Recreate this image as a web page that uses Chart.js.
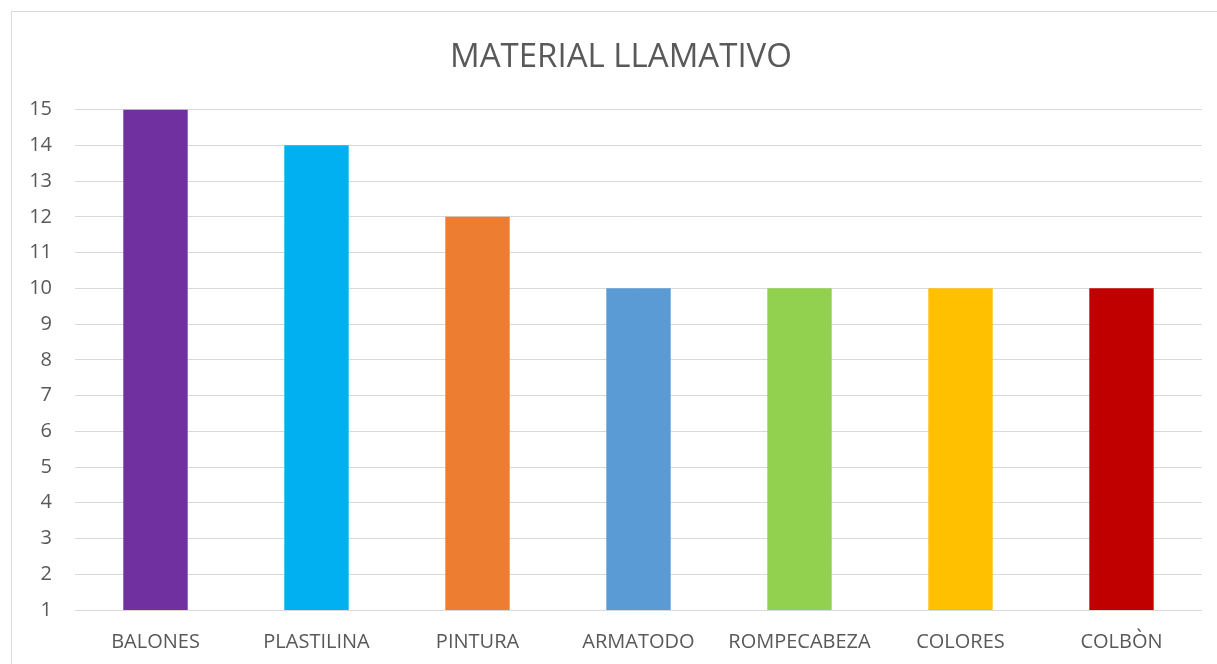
<!DOCTYPE html>
<html>
<head>
<meta charset="utf-8">
<script src="https://cdn.jsdelivr.net/npm/chart.js@4"></script>
<style>
  html, body { margin: 0; padding: 0; background: #fff; }
  #wrap { position: absolute; left: 0; top: 0; width: 1217px; height: 664px; }
  #frame { position: absolute; left: 11px; top: 11px; width: 1220px; height: 700px;
           border-left: 1px solid #d9d9d9; border-top: 1px solid #d9d9d9; pointer-events: none; }
</style>
</head>
<body>
<div id="wrap"><canvas id="chart" width="1217" height="664"></canvas></div>
<div id="frame"></div>
<script>
const categories = ['BALONES', 'PLASTILINA', 'PINTURA', 'ARMATODO', 'ROMPECABEZA', 'COLORES', 'COLBÒN'];
const values = [15, 14, 12, 10, 10, 10, 10];
const barColors = ['#7030A0', '#00B0F0', '#ED7D31', '#5B9BD5', '#92D050', '#FFC000', '#C00000'];

const fontFamily = '"Open Sans", "Liberation Sans", sans-serif';
const textColor = '#595959';

// nudge the title box so the text is centred on the framed area, like the original
const titleShift = {
  id: 'titleShift',
  afterLayout(chart) {
    if (chart.titleBlock) chart.titleBlock.left += 40;
  },
};

const ctx = document.getElementById('chart').getContext('2d');
new Chart(ctx, {
  type: 'bar',
  data: {
    labels: categories,
    datasets: [{
      label: 'MATERIAL LLAMATIVO',
      data: values,
      backgroundColor: barColors,
      barPercentage: 0.4,
      categoryPercentage: 1.0,
    }],
  },
  options: {
    responsive: false,
    animation: false,
    layout: { padding: { left: 0, right: 15, top: 0, bottom: 0 } },
    plugins: {
      legend: { display: false },
      tooltip: { enabled: false },
      title: {
        display: true,
        text: 'MATERIAL LLAMATIVO',
        color: textColor,
        font: { family: fontFamily, size: 33, weight: 'normal' },
        padding: { top: 38, bottom: 32 },
      },
    },
    scales: {
      x: {
        grid: { display: false },
        border: { display: false },
        ticks: {
          color: textColor,
          font: { family: fontFamily, size: 20 },
          padding: 12,
          maxRotation: 0,
          autoSkip: false,
        },
        afterFit: (scale) => { scale.height = 54; },
      },
      y: {
        min: 1,
        max: 15,
        grid: { color: '#d9d9d9', lineWidth: 1, drawTicks: false },
        border: { display: false },
        ticks: {
          stepSize: 1,
          color: textColor,
          font: { family: fontFamily, size: 20 },
          padding: 23,
        },
        afterFit: (scale) => { scale.width = 75; },
      },
    },
  },
  plugins: [titleShift],
});
</script>
</body>
</html>
